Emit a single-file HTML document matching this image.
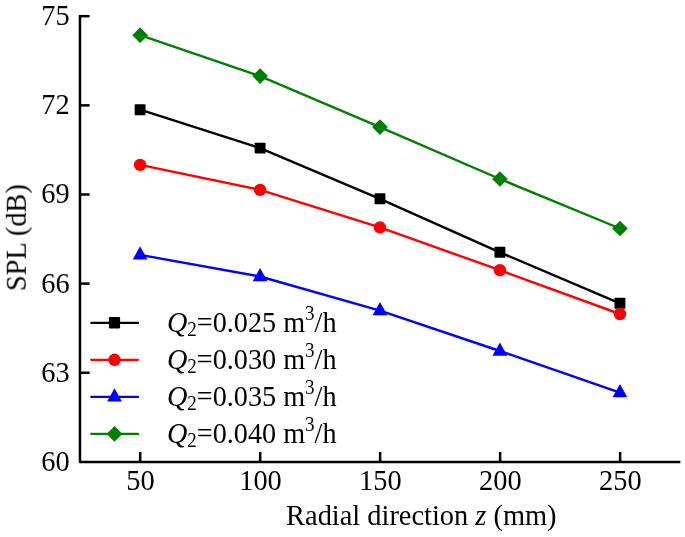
<!DOCTYPE html>
<html><head><meta charset="utf-8"><title>chart</title>
<style>
html,body{margin:0;padding:0;background:#fff;}
svg{display:block;}
text{font-family:"Liberation Serif",serif;fill:#000;}
</style></head><body>
<svg width="685" height="537" viewBox="0 0 685 537" font-size="28.4">
<rect width="685" height="537" fill="#fff"/>
<path d="M79.98,14.95 L79.98,461.9 L680.4,461.9" fill="none" stroke="#000" stroke-width="2.5" stroke-linejoin="round"/>
<line x1="79.98" y1="16.2" x2="89.6" y2="16.2" stroke="#000" stroke-width="2.5"/>
<line x1="79.98" y1="105.35" x2="89.6" y2="105.35" stroke="#000" stroke-width="2.5"/>
<line x1="79.98" y1="194.5" x2="89.6" y2="194.5" stroke="#000" stroke-width="2.5"/>
<line x1="79.98" y1="283.6" x2="89.6" y2="283.6" stroke="#000" stroke-width="2.5"/>
<line x1="79.98" y1="372.75" x2="89.6" y2="372.75" stroke="#000" stroke-width="2.5"/>
<line x1="140.2" y1="461.9" x2="140.2" y2="452.0" stroke="#000" stroke-width="2.5"/>
<line x1="260.2" y1="461.9" x2="260.2" y2="452.0" stroke="#000" stroke-width="2.5"/>
<line x1="380.1" y1="461.9" x2="380.1" y2="452.0" stroke="#000" stroke-width="2.5"/>
<line x1="500.1" y1="461.9" x2="500.1" y2="452.0" stroke="#000" stroke-width="2.5"/>
<line x1="620.1" y1="461.9" x2="620.1" y2="452.0" stroke="#000" stroke-width="2.5"/>
<polyline points="140.10,109.70 260.10,148.10 379.95,198.80 499.90,252.30 619.95,303.30" fill="none" stroke="#000000" stroke-width="2.4"/>
<rect x="134.65" y="104.25" width="10.9" height="10.9" rx="0.7" fill="#000000"/>
<rect x="254.65" y="142.65" width="10.9" height="10.9" rx="0.7" fill="#000000"/>
<rect x="374.50" y="193.35" width="10.9" height="10.9" rx="0.7" fill="#000000"/>
<rect x="494.45" y="246.85" width="10.9" height="10.9" rx="0.7" fill="#000000"/>
<rect x="614.50" y="297.85" width="10.9" height="10.9" rx="0.7" fill="#000000"/>
<polyline points="140.10,164.85 260.10,189.90 379.95,227.40 499.90,270.20 619.95,314.00" fill="none" stroke="#ff0000" stroke-width="2.4"/>
<circle cx="140.10" cy="164.85" r="6.2" fill="#ff0000"/>
<circle cx="260.10" cy="189.90" r="6.2" fill="#ff0000"/>
<circle cx="379.95" cy="227.40" r="6.2" fill="#ff0000"/>
<circle cx="499.90" cy="270.20" r="6.2" fill="#ff0000"/>
<circle cx="619.95" cy="314.00" r="6.2" fill="#ff0000"/>
<polyline points="140.10,254.90 260.10,276.50 379.95,310.60 499.90,351.00 619.95,392.60" fill="none" stroke="#0000ff" stroke-width="2.4"/>
<polygon points="140.10,246.30 147.50,259.55 132.70,259.55" fill="#0000ff"/>
<polygon points="260.10,267.90 267.50,281.15 252.70,281.15" fill="#0000ff"/>
<polygon points="379.95,302.00 387.35,315.25 372.55,315.25" fill="#0000ff"/>
<polygon points="499.90,342.40 507.30,355.65 492.50,355.65" fill="#0000ff"/>
<polygon points="619.95,384.00 627.35,397.25 612.55,397.25" fill="#0000ff"/>
<polyline points="140.10,35.20 260.10,76.10 379.95,127.10 499.90,179.00 619.95,228.50" fill="none" stroke="#008000" stroke-width="2.4"/>
<polygon points="140.10,27.35 147.95,35.20 140.10,43.05 132.25,35.20" fill="#008000"/>
<polygon points="260.10,68.25 267.95,76.10 260.10,83.95 252.25,76.10" fill="#008000"/>
<polygon points="379.95,119.25 387.80,127.10 379.95,134.95 372.10,127.10" fill="#008000"/>
<polygon points="499.90,171.15 507.75,179.00 499.90,186.85 492.05,179.00" fill="#008000"/>
<polygon points="619.95,220.65 627.80,228.50 619.95,236.35 612.10,228.50" fill="#008000"/>
<line x1="91.3" y1="322.9" x2="138.0" y2="322.9" stroke="#000000" stroke-width="2.3" stroke-linecap="round"/>
<rect x="108.90" y="316.90" width="11.2" height="11.6" rx="1.2" fill="#000000"/>
<line x1="91.3" y1="359.8" x2="138.0" y2="359.8" stroke="#ff0000" stroke-width="2.3" stroke-linecap="round"/>
<circle cx="114.50" cy="359.80" r="6.2" fill="#ff0000"/>
<line x1="91.3" y1="396.9" x2="138.0" y2="396.9" stroke="#0000ff" stroke-width="2.3" stroke-linecap="round"/>
<polygon points="114.50,388.30 121.90,401.55 107.10,401.55" fill="#0000ff"/>
<line x1="91.3" y1="433.9" x2="138.0" y2="433.9" stroke="#008000" stroke-width="2.3" stroke-linecap="round"/>
<polygon points="114.50,426.05 122.35,433.90 114.50,441.75 106.65,433.90" fill="#008000"/>
<g style="opacity:0.999">
<text transform="translate(69.60,25.15) scale(1,1.05)" text-anchor="end">75</text>
<text transform="translate(69.60,114.30) scale(1,1.05)" text-anchor="end">72</text>
<text transform="translate(69.60,203.45) scale(1,1.05)" text-anchor="end">69</text>
<text transform="translate(69.60,292.55) scale(1,1.05)" text-anchor="end">66</text>
<text transform="translate(69.60,381.70) scale(1,1.05)" text-anchor="end">63</text>
<text transform="translate(69.60,470.85) scale(1,1.05)" text-anchor="end">60</text>
<text transform="translate(140.50,489.80) scale(1,1.05)" text-anchor="middle">50</text>
<text transform="translate(260.50,489.80) scale(1,1.05)" text-anchor="middle">100</text>
<text transform="translate(380.40,489.80) scale(1,1.05)" text-anchor="middle">150</text>
<text transform="translate(500.40,489.80) scale(1,1.05)" text-anchor="middle">200</text>
<text transform="translate(620.40,489.80) scale(1,1.05)" text-anchor="middle">250</text>
<text transform="translate(166.90,331.60) scale(1,1.05)"><tspan font-size="28.2"><tspan font-style="italic">Q</tspan><tspan font-size="19.03" dy="3.9">2</tspan><tspan dy="-3.9">=0.025 m</tspan><tspan font-size="19.03" dy="-10.6">3</tspan><tspan dy="10.6">/h</tspan></tspan></text>
<text transform="translate(166.90,368.50) scale(1,1.05)"><tspan font-size="28.2"><tspan font-style="italic">Q</tspan><tspan font-size="19.03" dy="3.9">2</tspan><tspan dy="-3.9">=0.030 m</tspan><tspan font-size="19.03" dy="-10.6">3</tspan><tspan dy="10.6">/h</tspan></tspan></text>
<text transform="translate(166.90,405.60) scale(1,1.05)"><tspan font-size="28.2"><tspan font-style="italic">Q</tspan><tspan font-size="19.03" dy="3.9">2</tspan><tspan dy="-3.9">=0.035 m</tspan><tspan font-size="19.03" dy="-10.6">3</tspan><tspan dy="10.6">/h</tspan></tspan></text>
<text transform="translate(166.90,442.60) scale(1,1.05)"><tspan font-size="28.2"><tspan font-style="italic">Q</tspan><tspan font-size="19.03" dy="3.9">2</tspan><tspan dy="-3.9">=0.040 m</tspan><tspan font-size="19.03" dy="-10.6">3</tspan><tspan dy="10.6">/h</tspan></tspan></text>
<text transform="translate(286.10,525.45) scale(1,1.05)">Radial direction <tspan font-style="italic">z</tspan> (mm)</text>
<text transform="translate(26.10,237.60) rotate(-90) scale(1,1.05)" text-anchor="middle">SPL (dB)</text>
</g>
</svg></body></html>
